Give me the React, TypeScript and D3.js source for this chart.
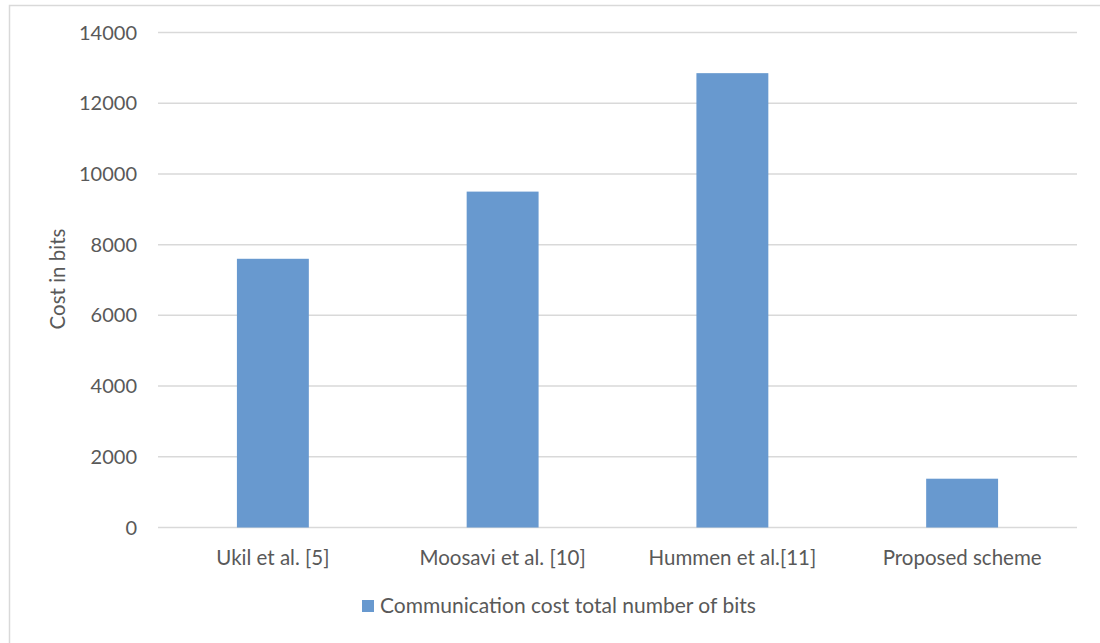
import { useRef, useEffect } from "react";
import * as d3 from "d3";

const categories = ["Ukil et al. [5]", "Moosavi et al. [10]", "Hummen et al.[11]", "Proposed scheme"];
const costBits = [7600, 9500, 12850, 1380];
const yTicks = [0, 2000, 4000, 6000, 8000, 10000, 12000, 14000];
const seriesName = "Communication cost total number of bits";

export default function App() {
  const ref = useRef<SVGSVGElement>(null);

  useEffect(() => {
    const w = 1100;
    const h = 643;
    const left = 158;
    const right = 1077;
    const top = 32.5;
    const bottom = 527.5;
    const font = "Lato, 'Open Sans', sans-serif";
    const textColor = "#595959";

    const svg = d3.select(ref.current);
    svg.selectAll("*").remove();

    svg
      .append("rect")
      .attr("x", 0)
      .attr("y", 0)
      .attr("width", w)
      .attr("height", h)
      .attr("fill", "#fff");

    // chart frame (right/bottom fall outside the picture)
    svg
      .append("rect")
      .attr("x", 9.5)
      .attr("y", 5.5)
      .attr("width", w + 20)
      .attr("height", h + 20)
      .attr("fill", "none")
      .attr("stroke", "#d9d9d9")
      .attr("stroke-width", 1.5);

    const x = d3.scaleBand().domain(categories).range([left, right]).paddingInner(0.687).paddingOuter(0.3435);
    const y = d3.scaleLinear().domain([0, 14000]).range([bottom, top]);

    // gridlines
    svg
      .append("g")
      .selectAll("line")
      .data(yTicks)
      .enter()
      .append("line")
      .attr("x1", left)
      .attr("x2", right)
      .attr("y1", (d) => y(d))
      .attr("y2", (d) => y(d))
      .attr("stroke", "#d9d9d9")
      .attr("stroke-width", 1.5);

    // y tick labels
    svg
      .append("g")
      .selectAll("text")
      .data(yTicks)
      .enter()
      .append("text")
      .text((d) => d)
      .attr("x", 137)
      .attr("y", (d) => y(d))
      .attr("dy", "0.35em")
      .attr("text-anchor", "end")
      .attr("font-family", font)
      .attr("font-size", "20px")
      .attr("fill", textColor);

    // bars
    svg
      .append("g")
      .selectAll("rect")
      .data(costBits)
      .enter()
      .append("rect")
      .attr("x", (d, i) => x(categories[i])!)
      .attr("y", (d) => y(d))
      .attr("width", x.bandwidth())
      .attr("height", (d) => y(0) - y(d))
      .attr("fill", "#6899cf");

    // category labels
    svg
      .append("g")
      .selectAll("text")
      .data(categories)
      .enter()
      .append("text")
      .text((d) => d)
      .attr("x", (d) => x(d)! + x.bandwidth() / 2)
      .attr("y", 558)
      .attr("dy", "0.35em")
      .attr("text-anchor", "middle")
      .attr("font-family", font)
      .attr("font-size", "20.5px")
      .attr("fill", textColor);

    // axis title
    svg
      .append("text")
      .text("Cost in bits")
      .attr("transform", "translate(58,279) rotate(-90)")
      .attr("dy", "0.35em")
      .attr("text-anchor", "middle")
      .attr("font-family", font)
      .attr("font-size", "20.5px")
      .attr("fill", textColor);

    // legend
    const lg = svg.append("g");
    lg.append("rect")
      .attr("x", 362)
      .attr("y", 600)
      .attr("width", 12)
      .attr("height", 12)
      .attr("fill", "#6899cf");
    lg.append("text")
      .text(seriesName)
      .attr("x", 380)
      .attr("y", 606)
      .attr("dy", "0.35em")
      .attr("font-family", font)
      .attr("font-size", "21px")
      .attr("fill", textColor);
  }, []);

  return (
    <svg
      ref={ref}
      width={1100}
      height={643}
      style={{ position: "absolute", left: 0, top: 0, display: "block" }}
    />
  );
}
